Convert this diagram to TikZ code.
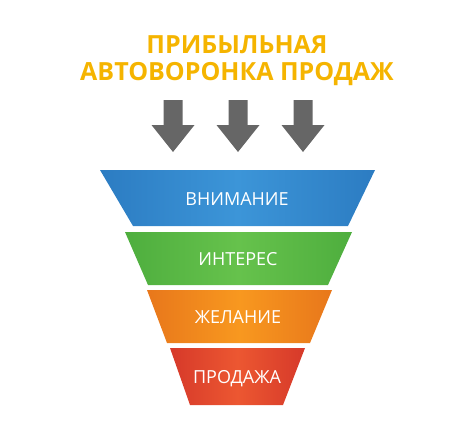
\documentclass[tikz,border=0pt]{standalone}
\usepackage{fontspec}
\setmainfont{Open Sans}
\usetikzlibrary{positioning}

\definecolor{titleyellow}{HTML}{F5B400}
\definecolor{arrowgray}{HTML}{666666}
\definecolor{blueD}{HTML}{2C7CC2}
\definecolor{blueL}{HTML}{3C95D8}
\definecolor{greenD}{HTML}{4EAE3E}
\definecolor{greenL}{HTML}{66C24C}
\definecolor{orangeD}{HTML}{E8771B}
\definecolor{orangeL}{HTML}{F8981F}
\definecolor{redD}{HTML}{D6392A}
\definecolor{redL}{HTML}{EC5731}

\begin{document}
\begin{tikzpicture}[x=1pt, y=-1pt,
    heading/.style={text=titleyellow, font=\bfseries\fontsize{25}{25}\selectfont},
    stage/.style={text=white, font=\fontsize{18}{18}\selectfont, text height=13pt, text depth=0pt},
    downarrow/.style={fill=arrowgray}]
    \useasboundingbox (0,0) rectangle (474,444);

    % Title
    \node[heading] (title1) at (237,45) {ПРИБЫЛЬНАЯ};
    \node[heading, below=1pt of title1] (title2) {АВТОВОРОНКА ПРОДАЖ};

    % Three arrows
    \foreach \x in {173,238,303} {
        \fill[downarrow] (\x-9.5,100) -- (\x+9.5,100) -- (\x+9.5,125) -- (\x+21.5,125)
            -- (\x,152) -- (\x-21.5,125) -- (\x-9.5,125) -- cycle;
    }

    % Funnel
    \shade[left color=blueD, right color=blueD, middle color=blueL]
        (100,170) -- (375,170) -- (348,226) -- (133,226) -- cycle;
    \node[stage] (attention) at (237,199) {ВНИМАНИЕ};

    \shade[left color=greenD, right color=greenD, middle color=greenL]
        (125,232) -- (352,232) -- (328,285) -- (148,285) -- cycle;
    \node[stage] (interest) at (238,259) {ИНТЕРЕС};

    \shade[left color=orangeD, right color=orangeD, middle color=orangeL]
        (147,290) -- (332,290) -- (310,343) -- (167,343) -- cycle;
    \node[stage] (desire) at (238,317) {ЖЕЛАНИЕ};

    \shade[left color=redD, right color=redD, middle color=redL]
        (170,348) -- (305,348) -- (283,405) -- (190,405) -- cycle;
    \node[stage] (sale) at (237,377) {ПРОДАЖА};
\end{tikzpicture}
\end{document}
